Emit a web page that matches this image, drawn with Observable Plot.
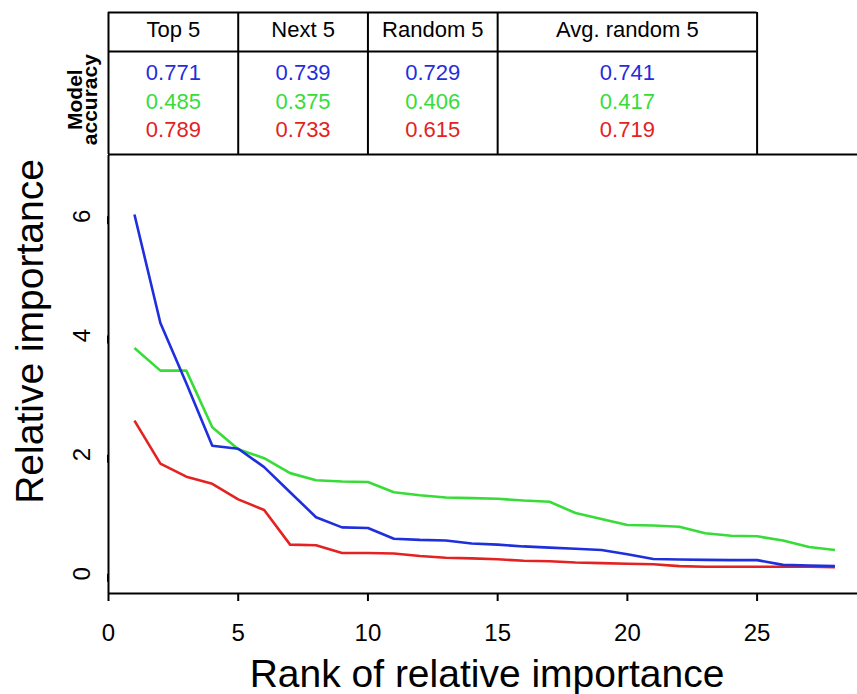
<!DOCTYPE html>
<html>
<head>
<meta charset="utf-8">
<script src="https://cdn.jsdelivr.net/npm/d3@7"></script>
<script src="https://cdn.jsdelivr.net/npm/@observablehq/plot@0.6"></script>
<style>
  html, body { margin: 0; padding: 0; background: #ffffff; }
  #chart { width: 857px; height: 694px; }
  #chart svg { display: block; }
</style>
</head>
<body>
<div id="chart"></div>
<script>
// ---- data ----
const ranks = [1,2,3,4,5,6,7,8,9,10,11,12,13,14,15,16,17,18,19,20,21,22,23,24,25,26,27,28];
const blueImportance  = [6.03,4.21,3.20,2.15,2.10,1.79,1.37,0.95,0.78,0.77,0.59,0.57,0.56,0.51,0.49,0.46,0.44,0.42,0.40,0.33,0.25,0.24,0.235,0.23,0.23,0.15,0.14,0.13];
const greenImportance = [3.79,3.41,3.41,2.46,2.09,1.94,1.69,1.57,1.55,1.54,1.37,1.32,1.28,1.27,1.26,1.23,1.21,1.02,0.92,0.82,0.81,0.79,0.68,0.64,0.63,0.56,0.45,0.40];
const redImportance   = [2.57,1.85,1.63,1.51,1.25,1.07,0.49,0.48,0.35,0.35,0.34,0.30,0.27,0.26,0.245,0.22,0.21,0.19,0.18,0.17,0.16,0.13,0.12,0.12,0.12,0.12,0.12,0.11];
const seriesColors = ["#1f2fdc", "#38dc38", "#e42222"]; // blue, green, red

const columnLabels = ["Top 5", "Next 5", "Random 5", "Avg. random 5"];
const columnEdges = [0, 5, 10, 15, 25];
const accuracyBlue  = ["0.771", "0.739", "0.729", "0.741"];
const accuracyGreen = ["0.485", "0.375", "0.406", "0.417"];
const accuracyRed   = ["0.789", "0.733", "0.615", "0.719"];

const xTicks = [0, 5, 10, 15, 20, 25];
const yTicks = [0, 2, 4, 6];
const xLabel = "Rank of relative importance";
const yLabel = "Relative importance";
const tableSideLabel = "Model\naccuracy";

// ---- scales ----
const xDomain = [0, 28.87];
const yDomain = [-0.33, 7.02];
const font = "'Liberation Sans', Arial, Helvetica, sans-serif";

// ---- table (above the plot) ----
const cells = columnLabels.map((label, i) => ({
  label, xm: (columnEdges[i] + columnEdges[i + 1]) / 2
}));
const accRows = [accuracyBlue, accuracyGreen, accuracyRed];
const accCells = accRows.flatMap((row, r) => row.map((v, i) => ({value: v, row: r, xm: cells[i].xm})));

const table = Plot.plot({
  width: 857, height: 155,
  marginLeft: 108, marginRight: 0, marginTop: 12, marginBottom: 1,
  x: {domain: xDomain, axis: null},
  y: {domain: [0, 3.65], reverse: true, axis: null},
  color: {type: "identity"},
  style: {fontFamily: font, overflow: "visible", background: "transparent"},
  marks: [
    Plot.ruleX(columnEdges, {y1: () => 0, y2: () => 3.65, stroke: "black", strokeWidth: 2}),
    Plot.ruleY([0, 1], {x1: () => columnEdges[0], x2: () => columnEdges[columnEdges.length - 1], stroke: "black", strokeWidth: 2}),
    Plot.ruleY([3.65], {stroke: "black", strokeWidth: 2}),
    Plot.text(cells, {x: "xm", y: () => 0.45, text: "label", fontSize: 22, fill: "black"}),
    Plot.text(accCells, {x: "xm", y: d => 1.56 + d.row * 0.735, text: "value", fill: d => seriesColors[d.row], fontSize: 22}),
    Plot.text([tableSideLabel], {frameAnchor: "left", y: () => 2.24, dx: -24, rotate: -90, textAnchor: "middle", lineAnchor: "middle", fontWeight: "bold", fontSize: 21, lineHeight: 0.71, fill: "black"})
  ]
});

// ---- main line chart ----
const series = [
  {name: "red", values: redImportance, color: seriesColors[2]},
  {name: "green", values: greenImportance, color: seriesColors[1]},
  {name: "blue", values: blueImportance, color: seriesColors[0]}
];

const main = Plot.plot({
  width: 857, height: 539,
  marginLeft: 108, marginRight: 0, marginTop: 0, marginBottom: 101,
  x: {domain: xDomain},
  y: {domain: yDomain},
  style: {fontFamily: font, overflow: "visible", background: "transparent"},
  marks: [
    Plot.ruleX([xDomain[0]], {stroke: "black", strokeWidth: 2}),
    Plot.ruleY([yDomain[0]], {stroke: "black", strokeWidth: 2}),
    Plot.axisX({ticks: xTicks, tickSize: 8, tickPadding: 22, fontSize: 24, label: null, strokeWidth: 2, tickFormat: d => String(d)}),
    Plot.axisY({ticks: yTicks, tickSize: 8, tickPadding: 18, fontSize: 24, label: null, strokeWidth: 2, rotate: -90, textAnchor: "middle", tickFormat: d => String(d)}),
    ...series.map(s => Plot.line(ranks.map((r, i) => ({rank: r, value: s.values[i]})), {
      x: "rank", y: "value", stroke: s.color, strokeWidth: 2.6, strokeLinejoin: "round", strokeLinecap: "butt"
    })),
    Plot.text([xLabel], {frameAnchor: "bottom", lineAnchor: "middle", textAnchor: "middle", dy: 81, dx: 4, fontSize: 39, fill: "black"}),
    Plot.text([yLabel], {frameAnchor: "left", lineAnchor: "middle", textAnchor: "middle", dx: -78, dy: -43, rotate: -90, fontSize: 39, fill: "black"})
  ]
});

const root = document.getElementById("chart");
root.appendChild(table);
root.appendChild(main);
</script>
</body>
</html>
